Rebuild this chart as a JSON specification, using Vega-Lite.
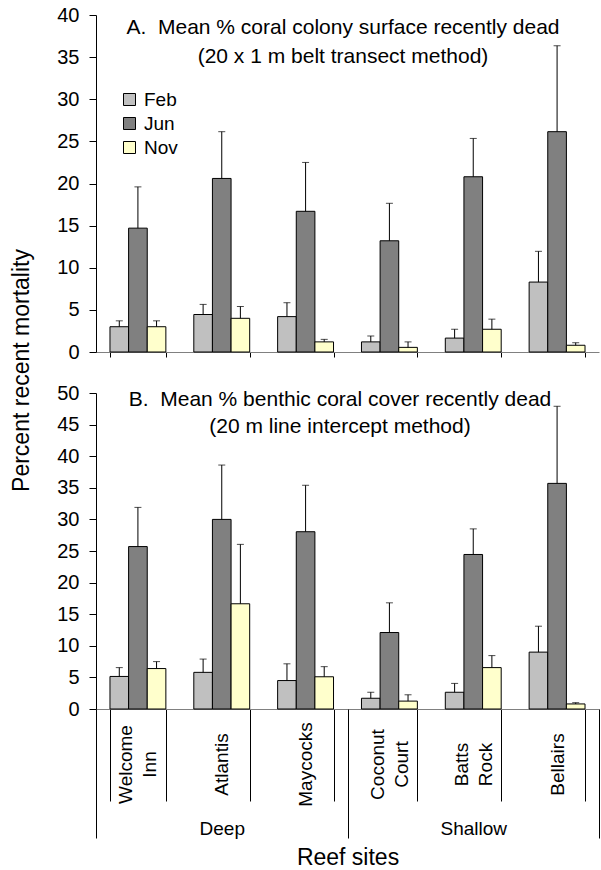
{
  "$schema": "https://vega.github.io/schema/vega-lite/v6.json",
  "padding": {"left": 10, "top": 5, "right": 0, "bottom": 0},
  "bounds": "flush",
  "spacing": 41,
  "config": {
    "view": {"stroke": null},
    "font": "Liberation Sans",
    "axis": {"labelFont": "Liberation Sans", "titleFont": "Liberation Sans", "labelColor": "#000", "titleColor": "#000", "domainColor": "#000", "tickColor": "#000", "grid": false, "titleFontWeight": "normal"},
    "legend": {"labelFont": "Liberation Sans", "labelColor": "#000"}
  },
  "datasets": {
    "A": [
      {"site": "Welcome Inn", "group": "Deep", "month": "Feb", "value": 3.0, "err": 3.7},
      {"site": "Welcome Inn", "group": "Deep", "month": "Jun", "value": 14.7, "err": 19.6},
      {"site": "Welcome Inn", "group": "Deep", "month": "Nov", "value": 3.0, "err": 3.7},
      {"site": "Atlantis", "group": "Deep", "month": "Feb", "value": 4.45, "err": 5.65},
      {"site": "Atlantis", "group": "Deep", "month": "Jun", "value": 20.6, "err": 26.15},
      {"site": "Atlantis", "group": "Deep", "month": "Nov", "value": 4.0, "err": 5.4},
      {"site": "Maycocks", "group": "Deep", "month": "Feb", "value": 4.2, "err": 5.85},
      {"site": "Maycocks", "group": "Deep", "month": "Jun", "value": 16.7, "err": 22.5},
      {"site": "Maycocks", "group": "Deep", "month": "Nov", "value": 1.2, "err": 1.5},
      {"site": "Coconut Court", "group": "Shallow", "month": "Feb", "value": 1.2, "err": 1.9},
      {"site": "Coconut Court", "group": "Shallow", "month": "Jun", "value": 13.2, "err": 17.65},
      {"site": "Coconut Court", "group": "Shallow", "month": "Nov", "value": 0.55, "err": 1.2},
      {"site": "Batts Rock", "group": "Shallow", "month": "Feb", "value": 1.65, "err": 2.7},
      {"site": "Batts Rock", "group": "Shallow", "month": "Jun", "value": 20.8, "err": 25.35},
      {"site": "Batts Rock", "group": "Shallow", "month": "Nov", "value": 2.7, "err": 3.9},
      {"site": "Bellairs", "group": "Shallow", "month": "Feb", "value": 8.3, "err": 11.95},
      {"site": "Bellairs", "group": "Shallow", "month": "Jun", "value": 26.15, "err": 36.35},
      {"site": "Bellairs", "group": "Shallow", "month": "Nov", "value": 0.8, "err": 1.1}
    ],
    "B": [
      {"site": "Welcome Inn", "group": "Deep", "month": "Feb", "value": 5.15, "err": 6.55},
      {"site": "Welcome Inn", "group": "Deep", "month": "Jun", "value": 25.7, "err": 31.9},
      {"site": "Welcome Inn", "group": "Deep", "month": "Nov", "value": 6.4, "err": 7.5},
      {"site": "Atlantis", "group": "Deep", "month": "Feb", "value": 5.8, "err": 7.9},
      {"site": "Atlantis", "group": "Deep", "month": "Jun", "value": 30.0, "err": 38.6},
      {"site": "Atlantis", "group": "Deep", "month": "Nov", "value": 16.65, "err": 26.05},
      {"site": "Maycocks", "group": "Deep", "month": "Feb", "value": 4.5, "err": 7.15},
      {"site": "Maycocks", "group": "Deep", "month": "Jun", "value": 28.05, "err": 35.4},
      {"site": "Maycocks", "group": "Deep", "month": "Nov", "value": 5.1, "err": 6.7},
      {"site": "Coconut Court", "group": "Shallow", "month": "Feb", "value": 1.7, "err": 2.65},
      {"site": "Coconut Court", "group": "Shallow", "month": "Jun", "value": 12.1, "err": 16.8},
      {"site": "Coconut Court", "group": "Shallow", "month": "Nov", "value": 1.25, "err": 2.25},
      {"site": "Batts Rock", "group": "Shallow", "month": "Feb", "value": 2.65, "err": 4.05},
      {"site": "Batts Rock", "group": "Shallow", "month": "Jun", "value": 24.45, "err": 28.5},
      {"site": "Batts Rock", "group": "Shallow", "month": "Nov", "value": 6.55, "err": 8.45},
      {"site": "Bellairs", "group": "Shallow", "month": "Feb", "value": 9.0, "err": 13.1},
      {"site": "Bellairs", "group": "Shallow", "month": "Jun", "value": 35.7, "err": 47.9},
      {"site": "Bellairs", "group": "Shallow", "month": "Nov", "value": 0.8, "err": 1.0}
    ]
  },
  "resolve": {"scale": {"x": "independent", "y": "independent", "color": "independent"}, "legend": {"color": "independent"}},
  "vconcat": [
    {
      "width": 503,
      "height": 337,
      "data": {"name": "A"},
      "title": {"text": ["A.\u00a0 Mean % coral colony surface recently dead", "(20 x 1 m belt transect method)"], "fontSize": 21, "font": "Liberation Sans", "fontWeight": "normal", "color": "#000", "anchor": "middle", "frame": "group", "baseline": "alphabetic", "offset": -30, "dy": 49, "lineHeight": 29, "dx": -4.5},
      "encoding": {
        "x": {"field": "site", "type": "nominal", "scale": {"domain": ["Welcome Inn", "Atlantis", "Maycocks", "Coconut Court", "Batts Rock", "Bellairs"], "paddingInner": 0.3333, "paddingOuter": 0.1667},
              "axis": {"labels": false, "title": null, "tickBand": "extent", "tickSize": 5, "domainColor": "#808080", "tickColor": "#000"}},
        "xOffset": {"field": "month", "type": "nominal", "scale": {"domain": ["Feb", "Jun", "Nov"], "paddingInner": 0, "paddingOuter": 0}}
      },
      "layer": [
        {
          "mark": {"type": "bar", "stroke": "#000", "strokeWidth": 1},
          "encoding": {
            "y": {"field": "value", "type": "quantitative", "scale": {"domain": [0, 40], "nice": false},
                  "axis": {"values": [0, 5, 10, 15, 20, 25, 30, 35, 40], "tickSize": 7, "labelPadding": 10, "labelFontSize": 20, "title": "Percent recent mortality", "titleFontSize": 23, "titleAngle": 270, "titleX": -75, "titleY": 355, "titleAlign": "center", "titleBaseline": "middle"}},
            "color": {"field": "month", "type": "nominal", "scale": {"domain": ["Feb", "Jun", "Nov"], "range": ["#C0C0C0", "#808080", "#FFFFCC"]},
                      "legend": {"orient": "none", "legendX": 24, "legendY": 75, "title": null, "symbolType": "square", "symbolSize": 144, "symbolStrokeColor": "#000", "symbolStrokeWidth": 1, "labelFontSize": 19, "labelOffset": 5, "rowPadding": 4, "padding": 0}}
          }
        },
        {
          "mark": {"type": "rule", "color": "#000", "strokeWidth": 1},
          "encoding": {"y": {"field": "value", "type": "quantitative"}, "y2": {"field": "err"}}
        },
        {
          "mark": {"type": "tick", "color": "#000", "thickness": 1, "size": 7},
          "encoding": {"y": {"field": "err", "type": "quantitative"}}
        }
      ]
    },
    {
      "width": 503,
      "height": 316,
      "data": {"name": "B"},
      "title": {"text": ["B.\u00a0 Mean % benthic coral cover recently dead", "(20 m line intercept method)"], "fontSize": 21, "font": "Liberation Sans", "fontWeight": "normal", "color": "#000", "anchor": "middle", "frame": "group", "baseline": "alphabetic", "offset": -22, "dy": 49, "lineHeight": 27, "dx": -7.5},
      "resolve": {"scale": {"x": "independent"}, "axis": {"x": "independent"}},
      "layer": [
        {
          "encoding": {
            "x": {"field": "site", "type": "nominal", "scale": {"domain": ["Welcome Inn", "Atlantis", "Maycocks", "Coconut Court", "Batts Rock", "Bellairs"], "paddingInner": 0.3333, "paddingOuter": 0.1667},
                  "axis": {"orient": "bottom", "tickBand": "extent", "tickSize": 92, "labelAngle": 270, "labelAlign": "center", "labelBaseline": "middle", "labelPadding": -37, "labelOffset": -12, "labelFontSize": 19,
                           "labelExpr": "indexof(datum.label, ' ') > 0 ? [split(datum.label, ' ')[0], '\u200b', split(datum.label, ' ')[1]] : ['\u200b', datum.label]",
                           "labelLineHeight": 12, "labelOverlap": false, "labelBound": false, "title": "Reef sites", "titleFontSize": 23, "titleY": 148, "titleBaseline": "middle", "domainColor": "#808080"}},
            "xOffset": {"field": "month", "type": "nominal", "scale": {"domain": ["Feb", "Jun", "Nov"], "paddingInner": 0, "paddingOuter": 0}}
          },
          "layer": [
            {
              "mark": {"type": "bar", "stroke": "#000", "strokeWidth": 1},
              "encoding": {
                "y": {"field": "value", "type": "quantitative", "scale": {"domain": [0, 50], "nice": false},
                      "axis": {"values": [0, 5, 10, 15, 20, 25, 30, 35, 40, 45, 50], "tickSize": 7, "labelPadding": 10, "labelFontSize": 20, "labelOverlap": false, "title": null}},
                "color": {"field": "month", "type": "nominal", "scale": {"domain": ["Feb", "Jun", "Nov"], "range": ["#C0C0C0", "#808080", "#FFFFCC"]}, "legend": null}
              }
            },
            {
              "mark": {"type": "rule", "color": "#000", "strokeWidth": 1},
              "encoding": {"y": {"field": "value", "type": "quantitative", "axis": {"values": [0, 5, 10, 15, 20, 25, 30, 35, 40, 45, 50], "tickSize": 7, "labelPadding": 10, "labelFontSize": 20, "labelOverlap": false, "title": null}}, "y2": {"field": "err"}}
            },
            {
              "mark": {"type": "tick", "color": "#000", "thickness": 1, "size": 7},
              "encoding": {"y": {"field": "err", "type": "quantitative", "axis": {"values": [0, 5, 10, 15, 20, 25, 30, 35, 40, 45, 50], "tickSize": 7, "labelPadding": 10, "labelFontSize": 20, "labelOverlap": false, "title": null}}}
            }
          ]
        },
        {
          "mark": {"type": "rule", "strokeOpacity": 0},
          "encoding": {
            "x": {"field": "group", "type": "nominal", "scale": {"type": "band", "domain": ["Deep", "Shallow"], "paddingInner": 0, "paddingOuter": 0},
                  "axis": {"orient": "bottom", "tickBand": "extent", "tickSize": 129, "domain": false, "labelPadding": -10, "labelFontSize": 19, "labelAngle": 0, "labelBaseline": "middle", "title": null}}
          }
        }
      ]
    }
  ]
}
